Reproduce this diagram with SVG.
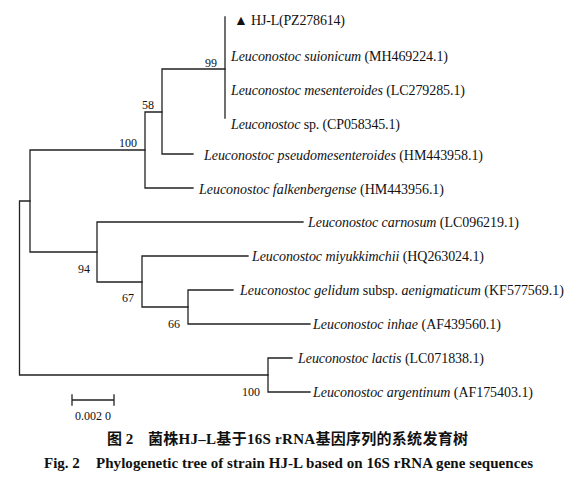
<svg xmlns="http://www.w3.org/2000/svg" width="581" height="480" viewBox="0 0 581 480">
<style>
.br{fill:none;stroke:#222;stroke-width:1.3;stroke-linecap:square}
.t{font-family:"Liberation Serif","Times New Roman",serif;font-size:14px;fill:#111}
.i{font-style:italic}
.n{font-family:"Liberation Serif","Times New Roman",serif;font-size:12px;fill:#111}
.cap{font-family:"Liberation Serif","Noto Sans CJK SC",serif;font-weight:bold;font-size:15px;fill:#111}
</style>
<rect width="581" height="480" fill="#fff"/>
<g id="connectors">
<path class="br" d="M19.5,201V375M19.5,201H30M19.5,375H268"/>
<path class="br" d="M30,150V252M30,150H145M30,252H97"/>
<path class="br" d="M145,112V188M145,112H162M145,188H193"/>
<path class="br" d="M162,69V154M162,69H225M162,154H193"/>
<path class="br" d="M225,17V118"/>
<path class="br" d="M97,222V282M97,222H303M97,282H142"/>
<path class="br" d="M142,256V307M142,256H248M142,307H188"/>
<path class="br" d="M188,290V324M188,290H233M188,324H310"/>
<path class="br" d="M268,358V392M268,358H292M268,392H310"/>
<path class="br" d="M72,400H114M72,395V405M114,395V405"/>
</g>
<g id="bootstrap">
<text class="n" x="205" y="67">99</text>
<text class="n" x="142" y="109">58</text>
<text class="n" x="119" y="147">100</text>
<text class="n" x="78" y="273">94</text>
<text class="n" x="122" y="302">67</text>
<text class="n" x="168" y="328">66</text>
<text class="n" x="242" y="396">100</text>
</g>
<g id="n-hjl"><text class="t" x="234" y="25" textLength="111">▲ HJ-L(PZ278614)</text></g>
<g id="n-suionicum"><text class="t" x="231" y="61" textLength="217"><tspan class="i">Leuconostoc suionicum</tspan> (MH469224.1)</text></g>
<g id="n-mesenteroides"><text class="t" x="231" y="95" textLength="234"><tspan class="i">Leuconostoc mesenteroides</tspan> (LC279285.1)</text></g>
<g id="n-sp"><text class="t" x="231" y="129" textLength="169"><tspan class="i">Leuconostoc</tspan> sp. (CP058345.1)</text></g>
<g id="n-pseudo"><text class="t" x="204" y="160" textLength="279"><tspan class="i">Leuconostoc pseudomesenteroides</tspan> (HM443958.1)</text></g>
<g id="n-falk"><text class="t" x="199" y="194" textLength="245"><tspan class="i">Leuconostoc falkenbergense</tspan> (HM443956.1)</text></g>
<g id="n-carnosum"><text class="t" x="308" y="227" textLength="211"><tspan class="i">Leuconostoc carnosum</tspan> (LC096219.1)</text></g>
<g id="n-miyuk"><text class="t" x="252" y="261" textLength="232"><tspan class="i">Leuconostoc miyukkimchii</tspan> (HQ263024.1)</text></g>
<g id="n-gelidum"><text class="t" x="240" y="295" textLength="324"><tspan class="i">Leuconostoc gelidum</tspan> subsp. <tspan class="i">aenigmaticum</tspan> (KF577569.1)</text></g>
<g id="n-inhae"><text class="t" x="313" y="329" textLength="188"><tspan class="i">Leuconostoc inhae</tspan> (AF439560.1)</text></g>
<g id="n-lactis"><text class="t" x="298" y="363" textLength="186"><tspan class="i">Leuconostoc lactis</tspan> (LC071838.1)</text></g>
<g id="n-argentinum"><text class="t" x="313" y="397" textLength="220"><tspan class="i">Leuconostoc argentinum</tspan> (AF175403.1)</text></g>
<g id="scale"><text class="n" x="75" y="420" font-size="11">0.002 0</text></g>
<g id="caption">
<text class="cap" x="107" y="444">图 2</text>
<text class="cap" x="148" y="444" textLength="320">菌株HJ–L基于16S rRNA基因序列的系统发育树</text>
<text class="cap" x="44" y="468">Fig. 2</text>
<text class="cap" x="96" y="468" textLength="437">Phylogenetic tree of strain HJ-L based on 16S rRNA gene sequences</text>
</g>
</svg>
